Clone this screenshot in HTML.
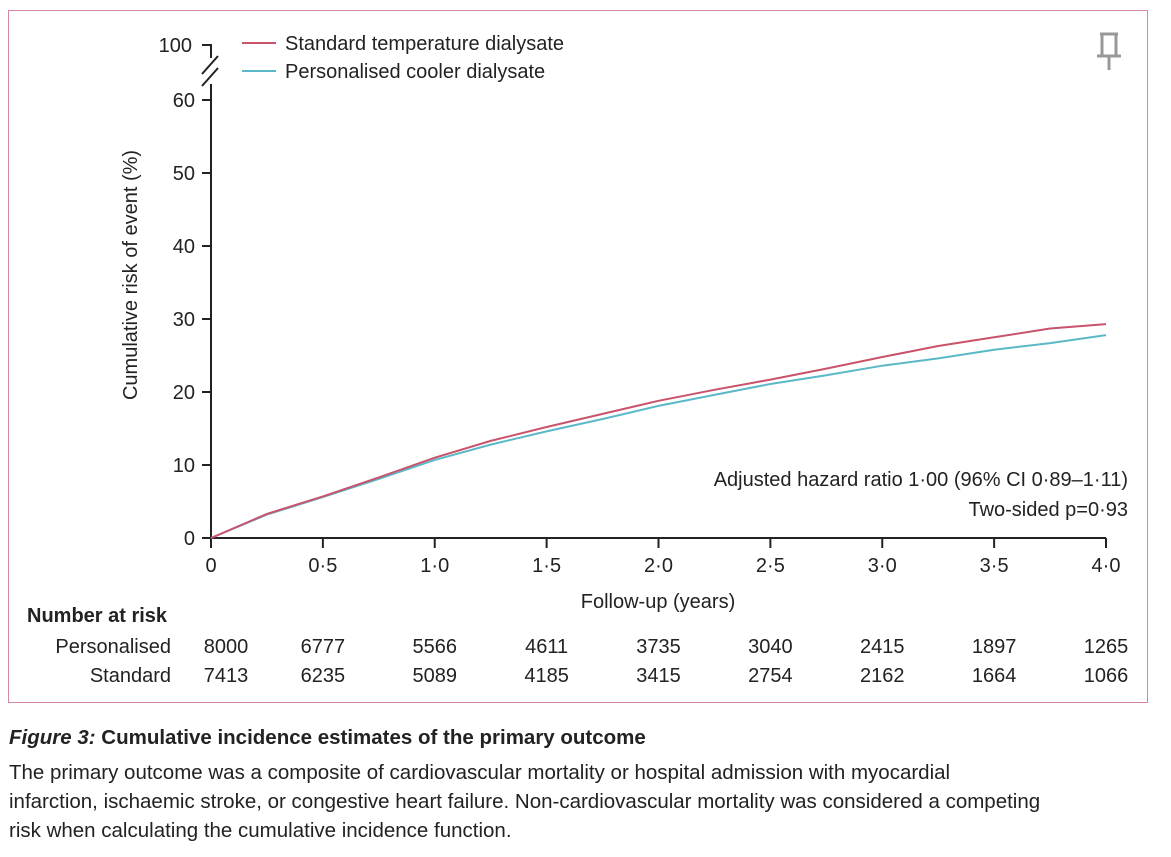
<!DOCTYPE html>
<html><head><meta charset="utf-8"><style>
body{margin:0;background:#fff;width:1171px;height:857px;overflow:hidden;font-family:"Liberation Sans",sans-serif;}
#frame{position:absolute;left:8px;top:10px;width:1140px;height:693px;border:1.5px solid #d9899f;box-sizing:border-box;}
.cap{position:absolute;left:9px;font-size:20.5px;color:#222;white-space:nowrap;}
</style></head><body>
<div id="frame"></div>
<svg id="chart" width="1171" height="710" style="position:absolute;left:0;top:0" font-family="Liberation Sans, sans-serif" fill="#222"></svg>
<div class="cap" style="top:726px;font-weight:bold"><i>Figure 3:</i> Cumulative incidence estimates of the primary outcome</div>
<div class="cap" style="top:758px;line-height:29px">The primary outcome was a composite of cardiovascular mortality or hospital admission with myocardial<br>infarction, ischaemic stroke, or congestive heart failure. Non-cardiovascular mortality was considered a competing<br>risk when calculating the cumulative incidence function.</div>
<script>
const times=[0,0.25,0.5,0.75,1.0,1.25,1.5,1.75,2.0,2.25,2.5,2.75,3.0,3.25,3.5,3.75,4.0];
const standardRisk=[0,3.3,5.7,8.3,11,13.3,15.2,17,18.8,20.3,21.7,23.2,24.8,26.3,27.5,28.7,29.3];
const cooledRisk=[0,3.2,5.6,8.1,10.7,12.8,14.6,16.3,18.1,19.6,21.1,22.3,23.6,24.6,25.8,26.7,27.8];
const xTicks=[0,0.5,1.0,1.5,2.0,2.5,3.0,3.5,4.0];
const xTickLabels=["0","0·5","1·0","1·5","2·0","2·5","3·0","3·5","4·0"];
const yTicks=[0,10,20,30,40,50,60];
const riskPersonalised=[8000,6777,5566,4611,3735,3040,2415,1897,1265];
const riskStandard=[7413,6235,5089,4185,3415,2754,2162,1664,1066];
const svg=document.getElementById('chart');const NS='http://www.w3.org/2000/svg';
const X=v=>211+v*(1106-211)/4;const Y=v=>538-v*7.3;
function el(t,a,txt){const e=document.createElementNS(NS,t);for(const k in a)e.setAttribute(k,a[k]);if(txt!=null)e.textContent=txt;svg.appendChild(e);return e;}
let e;
const FS=20;
e=el('line',{x1:211,y1:538,x2:1106,y2:538,stroke:'#222','stroke-width':2});

e=el('path',{d:'M211,538 V84 M202,86 L218,68 M202,74 L218,56 M211,58 V45 H202 M211,100 H202',stroke:'#222','stroke-width':2,fill:'none'});

e=el('text',{x:192,y:52,'font-size':FS,'text-anchor':'end'},'100');

yTicks.forEach(v=>{
 e=el('line',{x1:202,y1:Y(v),x2:211,y2:Y(v),stroke:'#222','stroke-width':2});
 
 e=el('text',{x:195,y:Y(v)+7,'font-size':FS,'text-anchor':'end'},String(v));
 
});
xTicks.forEach((v,i)=>{
 e=el('line',{x1:X(v),y1:538,x2:X(v),y2:548,stroke:'#222','stroke-width':2});
 
 e=el('text',{x:X(v),y:572,'font-size':FS,'text-anchor':'middle'},xTickLabels[i]);
 
 e=el('text',{x:X(v)+(i==0?15:0),y:653,'font-size':FS,'text-anchor':'middle'},String(riskPersonalised[i]));
 
 e=el('text',{x:X(v)+(i==0?15:0),y:682,'font-size':FS,'text-anchor':'middle'},String(riskStandard[i]));
 
});
e=el('text',{x:658,y:608,'font-size':FS,'text-anchor':'middle'},'Follow-up (years)');

e=el('text',{x:0,y:0,'font-size':FS,'text-anchor':'middle',transform:'translate(137,275) rotate(-90)'},'Cumulative risk of event (%)');

e=el('text',{x:27,y:622,'font-size':FS,'font-weight':'bold'},'Number at risk');

e=el('text',{x:171,y:653,'font-size':FS,'text-anchor':'end'},'Personalised');

e=el('text',{x:171,y:682,'font-size':FS,'text-anchor':'end'},'Standard');

function line(vals,c,n){const d=vals.map((v,i)=>(i?'L':'M')+X(times[i]).toFixed(1)+','+Y(v).toFixed(1)).join(' ');
 e=el('path',{d:d,stroke:c,'stroke-width':2,fill:'none'});
 }
line(cooledRisk,'#5bb8c9','line-personalised');
line(standardRisk,'#c8536a','line-standard');
e=el('line',{x1:242,y1:43,x2:276,y2:43,stroke:'#c8536a','stroke-width':2});

e=el('text',{x:285,y:50,'font-size':FS},'Standard temperature dialysate');

e=el('line',{x1:242,y1:71,x2:276,y2:71,stroke:'#5bb8c9','stroke-width':2});

e=el('text',{x:285,y:78,'font-size':FS},'Personalised cooler dialysate');

e=el('text',{x:1128,y:486,'font-size':FS,'text-anchor':'end'},'Adjusted hazard ratio 1·00 (96% CI 0·89–1·11)');

e=el('text',{x:1128,y:516,'font-size':FS,'text-anchor':'end'},'Two-sided p=0·93');

e=el('path',{d:'M1100,34 H1118 M1102,34 V56 H1116 V34 M1097,56 H1121 M1109,56 V70',stroke:'#999','stroke-width':3,fill:'none'});

</script>
</body></html>
